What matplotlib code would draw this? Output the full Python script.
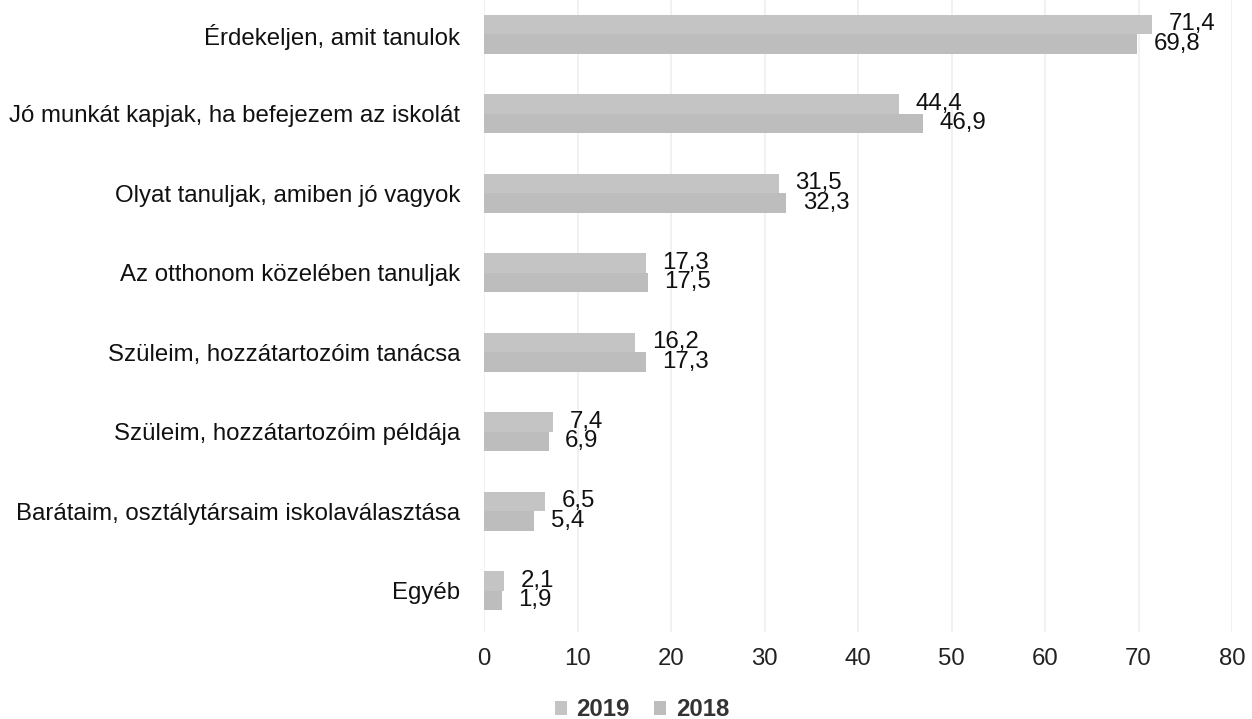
import matplotlib
matplotlib.use("Agg")
import matplotlib.pyplot as plt
import numpy as np

categories = [
    "Érdekeljen, amit tanulok",
    "Jó munkát kapjak, ha befejezem az iskolát",
    "Olyat tanuljak, amiben jó vagyok",
    "Az otthonom közelében tanuljak",
    "Szüleim, hozzátartozóim tanácsa",
    "Szüleim, hozzátartozóim példája",
    "Barátaim, osztálytársaim iskolaválasztása",
    "Egyéb",
]
values_2019 = [71.4, 44.4, 31.5, 17.3, 16.2, 7.4, 6.5, 2.1]
values_2018 = [69.8, 46.9, 32.3, 17.5, 17.3, 6.9, 5.4, 1.9]
series_names = ["2019", "2018"]
xticks = [0, 10, 20, 30, 40, 50, 60, 70, 80]

plt.rcParams['font.family'] = ['Liberation Sans', 'DejaVu Sans']
FS = 17.3

fig = plt.figure(figsize=(12.52, 7.19), dpi=100)
ax = fig.add_axes([484/1252, 1-632/719, (1232-484)/1252, 632/719])

y = np.arange(len(categories))
h = 0.245
b1 = ax.barh(y - h/2, values_2019, height=h, color="#c4c4c4", label=series_names[0])
b2 = ax.barh(y + h/2, values_2018, height=h, color="#bdbdbd", label=series_names[1])

def fmt(v):
    return f"{v:.1f}".replace(".", ",")

for bars, vals in ((b1, values_2019), (b2, values_2018)):
    for rect, v in zip(bars, vals):
        ax.annotate(fmt(v), (v, rect.get_y() + rect.get_height()/2),
                    xytext=(12, 0), textcoords="offset points",
                    ha="left", va="center", fontsize=FS, color="#111111")

ax.set_xlim(0, 80)
ax.set_ylim(7.52, -0.43)
ax.set_xticks(xticks)
ax.set_xticklabels([str(t) for t in xticks])
ax.set_yticks(y)
ax.set_yticklabels(categories)
ax.tick_params(axis="x", length=0, pad=11.5, labelsize=FS, labelcolor="#222222")
ax.tick_params(axis="y", length=0, pad=17, labelsize=FS, labelcolor="#111111")
for s in ax.spines.values():
    s.set_visible(False)
ax.grid(axis="x", color="#efefef", linewidth=1.2)
ax.set_axisbelow(True)

leg = fig.legend(handles=[b1, b2], labels=series_names, loc="center",
                 bbox_to_anchor=(642/1252, 1-710/719), ncol=2, frameon=False,
                 handlelength=0.5, handleheight=0.5, handletextpad=0.4,
                 columnspacing=1.0, prop={"size": FS, "weight": "bold"})
for t in leg.get_texts():
    t.set_color("#333333")

fig.savefig("out.png", dpi=100)
